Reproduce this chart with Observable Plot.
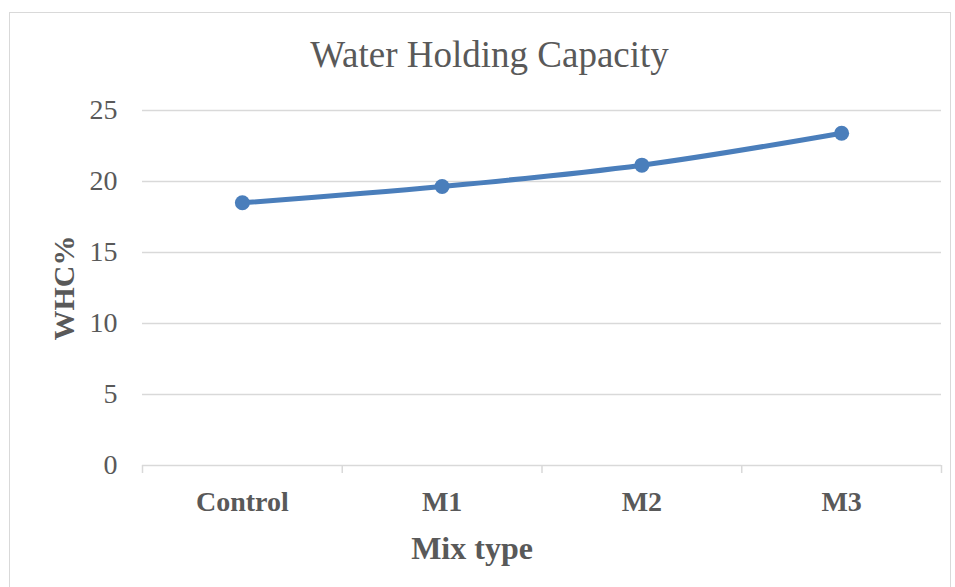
<!DOCTYPE html>
<html>
<head>
<meta charset="utf-8">
<script src="https://cdn.jsdelivr.net/npm/d3@7"></script>
<script src="https://cdn.jsdelivr.net/npm/@observablehq/plot@0.6"></script>
<style>
  html, body { margin: 0; padding: 0; background: #fff; }
  #wrap { position: relative; width: 955px; height: 587px; overflow: hidden; font-family: "Liberation Serif", serif; }
  #frame { position: absolute; left: 9px; top: 12px; width: 942px; height: 590px; border: 1.5px solid #d9d9d9; box-sizing: border-box; }
  #title { position: absolute; left: 0; top: 36px; width: 979px; text-align: center; font-size: 37px; line-height: 1; color: #595959; }
  #chart { position: absolute; left: 0; top: 80px; }
</style>
</head>
<body>
<div id="wrap">
  <div id="frame"></div>
  <div id="title">Water Holding Capacity</div>
  <div id="chart"></div>
</div>
<script>
const categories = ["Control", "M1", "M2", "M3"];
const whc = [18.5, 19.65, 21.15, 23.4];
const yTicks = [0, 5, 10, 15, 20, 25];
const boundaries = [0, 1, 2, 3, 4];

const data = categories.map((c, i) => ({cat: c, pos: i + 0.5, value: whc[i]}));
const textColor = "#595959";
const lineColor = "#4a7ebb";

const chart = Plot.plot({
  width: 955,
  height: 507,
  marginLeft: 142,
  marginRight: 14,
  marginTop: 30,
  marginBottom: 122,
  style: {fontFamily: "Liberation Serif, serif", color: textColor, background: "transparent", overflow: "visible"},
  x: {type: "linear", domain: [0, 4]},
  y: {domain: [0, 25]},
  marks: [
    Plot.gridY(yTicks.slice(1), {stroke: "#d9d9d9", strokeOpacity: 1, strokeWidth: 1.5}),
    Plot.ruleY([0], {stroke: "#d9d9d9", strokeWidth: 1.5}),
    Plot.ruleX(boundaries, {y1: 0, y2: 0, insetBottom: -8, stroke: "#d9d9d9", strokeWidth: 1.5}),
    Plot.axisY({ticks: yTicks, tickSize: 0, tickPadding: 25, fontSize: 28, label: null, fill: textColor}),
    Plot.axisX({ticks: data.map(d => d.pos), tickFormat: p => categories[Math.round(p - 0.5)], tickSize: 0, tickPadding: 26, fontSize: 28, fontWeight: "bold", label: null, fill: textColor}),
    Plot.text(["Mix type"], {frameAnchor: "bottom", dx: -70, dy: 93, lineAnchor: "bottom", fontSize: 32, fontWeight: "bold", fill: textColor}),
    Plot.text(["WHC%"], {frameAnchor: "left", dx: -69, dy: 0, rotate: -90, textAnchor: "middle", lineAnchor: "bottom", fontSize: 30, fontWeight: "bold", fill: textColor}),
    Plot.line(data, {x: "pos", y: "value", stroke: lineColor, strokeWidth: 5, curve: "catmull-rom"}),
    Plot.dot(data, {x: "pos", y: "value", r: 7.5, fill: lineColor, stroke: "none"})
  ]
});
document.getElementById("chart").appendChild(chart);
</script>
</body>
</html>
